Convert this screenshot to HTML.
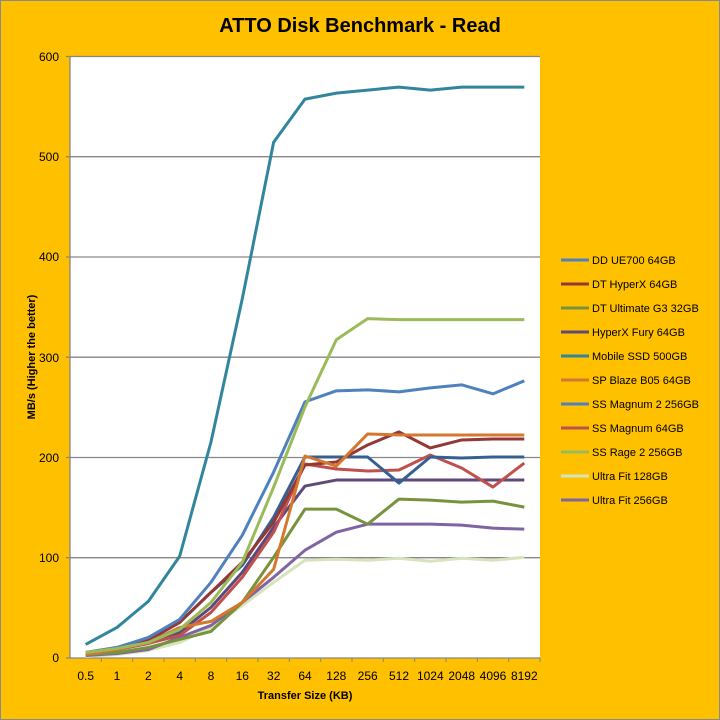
<!DOCTYPE html>
<html><head><meta charset="utf-8"><style>
html,body{margin:0;padding:0;background:#FFC000;}
svg{display:block;font-family:"Liberation Sans","DejaVu Sans",sans-serif;}
</style></head><body>
<svg width="720" height="720" viewBox="0 0 720 720" xmlns="http://www.w3.org/2000/svg">
<rect x="0.5" y="0.5" width="719" height="719" fill="#FFC000" stroke="#8a8a8a"/>
<text x="360" y="32" text-anchor="middle" font-size="20" font-weight="bold" fill="#000">ATTO Disk Benchmark - Read</text>
<rect x="70" y="56" width="470" height="602" fill="#fff"/>
<g stroke="#868686" stroke-width="1.3">
<line x1="66" y1="56.5" x2="540" y2="56.5"/>
<line x1="66" y1="156.7" x2="540" y2="156.7"/>
<line x1="66" y1="257" x2="540" y2="257"/>
<line x1="66" y1="357.2" x2="540" y2="357.2"/>
<line x1="66" y1="457.5" x2="540" y2="457.5"/>
<line x1="66" y1="557.7" x2="540" y2="557.7"/>
<line x1="66" y1="658" x2="540" y2="658"/>
<line x1="70" y1="56" x2="70" y2="658"/>
</g>
<g stroke="#868686" stroke-width="1">
<line x1="101.3" y1="658" x2="101.3" y2="662"/><line x1="132.7" y1="658" x2="132.7" y2="662"/><line x1="164" y1="658" x2="164" y2="662"/><line x1="195.3" y1="658" x2="195.3" y2="662"/><line x1="226.7" y1="658" x2="226.7" y2="662"/><line x1="258" y1="658" x2="258" y2="662"/><line x1="289.3" y1="658" x2="289.3" y2="662"/><line x1="320.7" y1="658" x2="320.7" y2="662"/><line x1="352" y1="658" x2="352" y2="662"/><line x1="383.3" y1="658" x2="383.3" y2="662"/><line x1="414.7" y1="658" x2="414.7" y2="662"/><line x1="446" y1="658" x2="446" y2="662"/><line x1="477.3" y1="658" x2="477.3" y2="662"/><line x1="508.7" y1="658" x2="508.7" y2="662"/><line x1="540" y1="658" x2="540" y2="662"/>
</g>
<g font-size="12" fill="#000" text-anchor="end">
<text x="59" y="61">600</text><text x="59" y="161">500</text><text x="59" y="261">400</text><text x="59" y="362">300</text><text x="59" y="462">200</text><text x="59" y="562">100</text><text x="59" y="662">0</text>
</g>
<g font-size="12" fill="#000" text-anchor="middle">
<text x="85.7" y="680">0.5</text><text x="117" y="680">1</text><text x="148.3" y="680">2</text><text x="179.7" y="680">4</text><text x="211" y="680">8</text><text x="242.3" y="680">16</text><text x="273.7" y="680">32</text><text x="305" y="680">64</text><text x="336.3" y="680">128</text><text x="367.7" y="680">256</text><text x="399" y="680">512</text><text x="430.3" y="680">1024</text><text x="461.7" y="680">2048</text><text x="493" y="680">4096</text><text x="524.3" y="680">8192</text>
</g>
<text x="305" y="699" text-anchor="middle" font-size="11" font-weight="bold">Transfer Size (KB)</text>
<text transform="translate(35,357) rotate(-90)" text-anchor="middle" font-size="11" font-weight="bold">MB/s (Higher the better)</text>
<g transform="translate(85.67,657.5) scale(31.33,-1.0025)" fill="none" stroke-width="3" stroke-linejoin="round">
<polyline vector-effect="non-scaling-stroke" stroke="#D6E3BC" points="0,1 1,3 2,7 3,15 4,30 5,52 6,75 7,97 8,98 9,97 10,99 11,96 12,99 13,97 14,100"/>
<polyline vector-effect="non-scaling-stroke" stroke="#8064A2" points="0,2 1,4 2,8 3,20 4,32 5,55 6,80 7,107 8,125 9,133 10,133 11,133 12,132 13,129 14,128"/>
<polyline vector-effect="non-scaling-stroke" stroke="#77933C" points="0,3 1,5 2,10 3,18 4,26 5,55 6,100 7,148 8,148 9,133 10,158 11,157 12,155 13,156 14,150"/>
<polyline vector-effect="non-scaling-stroke" stroke="#5F497A" points="0,4 1,8 2,14 3,25 4,50 5,85 6,130 7,171 8,177 9,177 10,177 11,177 12,177 13,177 14,177"/>
<polyline vector-effect="non-scaling-stroke" stroke="#C0504D" points="0,4 1,8 2,14 3,22 4,45 5,80 6,125 7,193 8,188 9,186 10,187 11,202 12,189 13,170 14,194"/>
<polyline vector-effect="non-scaling-stroke" stroke="#366092" points="0,5 1,8 2,17 3,35 4,65 5,92 6,140 7,200 8,200 9,200 10,174 11,200 12,199 13,200 14,200"/>
<polyline vector-effect="non-scaling-stroke" stroke="#953735" points="0,5 1,10 2,18 3,35 4,65 5,95 6,135 7,192 8,195 9,212 10,225 11,209 12,217 13,218 14,218"/>
<polyline vector-effect="non-scaling-stroke" stroke="#D4782F" points="0,3 1,8 2,15 3,30 4,36 5,55 6,88 7,201 8,191 9,223 10,222 11,222 12,222 13,222 14,222"/>
<polyline vector-effect="non-scaling-stroke" stroke="#4F81BD" points="0,5 1,10 2,20 3,38 4,75 5,122 6,185 7,255 8,266 9,267 10,265 11,269 12,272 13,263 14,276"/>
<polyline vector-effect="non-scaling-stroke" stroke="#9BBB59" points="0,5 1,9 2,15 3,28 4,55 5,95 6,170 7,250 8,317 9,338 10,337 11,337 12,337 13,337 14,337"/>
<polyline vector-effect="non-scaling-stroke" stroke="#31859C" points="0,13 1,30 2,56 3,101 4,215 5,358 6,514 7,557 8,563 9,566 10,569 11,566 12,569 13,569 14,569"/>
</g>
<g stroke-width="3" font-size="11" fill="#000">
<line x1="561" y1="260" x2="589" y2="260" stroke="#4F81BD"/><text x="592" y="264">DD UE700 64GB</text>
<line x1="561" y1="284" x2="589" y2="284" stroke="#953735"/><text x="592" y="288">DT HyperX 64GB</text>
<line x1="561" y1="308" x2="589" y2="308" stroke="#77933C"/><text x="592" y="312">DT Ultimate G3 32GB</text>
<line x1="561" y1="332" x2="589" y2="332" stroke="#5F497A"/><text x="592" y="336">HyperX Fury 64GB</text>
<line x1="561" y1="356" x2="589" y2="356" stroke="#31859C"/><text x="592" y="360">Mobile SSD 500GB</text>
<line x1="561" y1="380" x2="589" y2="380" stroke="#D4782F"/><text x="592" y="384">SP Blaze B05 64GB</text>
<line x1="561" y1="404" x2="589" y2="404" stroke="#4F81BD"/><text x="592" y="408">SS Magnum 2 256GB</text>
<line x1="561" y1="428" x2="589" y2="428" stroke="#C0504D"/><text x="592" y="432">SS Magnum 64GB</text>
<line x1="561" y1="452" x2="589" y2="452" stroke="#9BBB59"/><text x="592" y="456">SS Rage 2 256GB</text>
<line x1="561" y1="476" x2="589" y2="476" stroke="#D6E3BC"/><text x="592" y="480">Ultra Fit 128GB</text>
<line x1="561" y1="500" x2="589" y2="500" stroke="#8064A2"/><text x="592" y="504">Ultra Fit 256GB</text>
</g>
</svg>
</body></html>
